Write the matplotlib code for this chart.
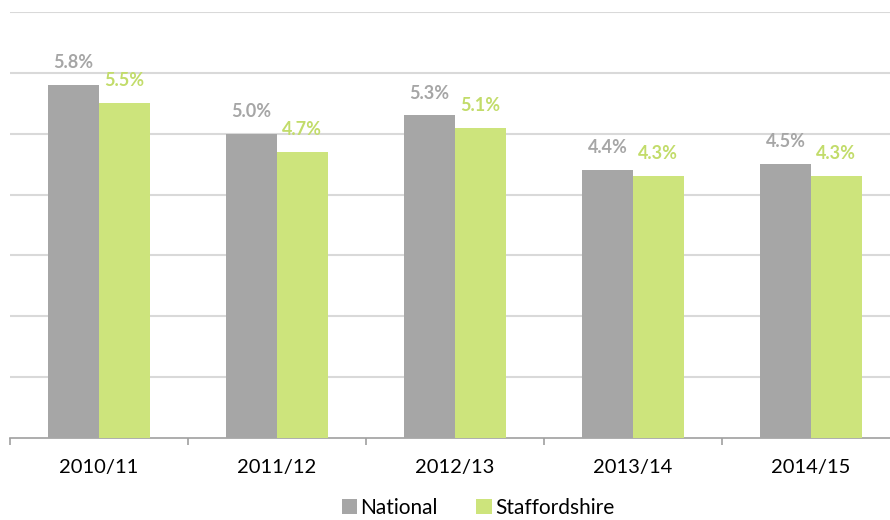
import numpy as np
from matplotlib import pyplot as plt

years = ['2010/11', '2011/12', '2012/13', '2013/14', '2014/15']
national = [5.8, 5.0, 5.3, 4.4, 4.5]
staffordshire = [5.5, 4.7, 5.1, 4.3, 4.3]

grey = '#a6a6a6'
green = '#cde47c'
green_text = '#c2dc6a'

plt.rcParams['font.family'] = ['Lato', 'DejaVu Sans']

fig = plt.figure(figsize=(8.9, 5.2), dpi=100)
ax = fig.add_axes([10 / 890, 82 / 520, 1 - 10 / 890, 426 / 520])

x = np.arange(len(years))
w = 0.285
b1 = ax.bar(x - w / 2, national, w, color=grey, label='National', zorder=3)
b2 = ax.bar(x + w / 2, staffordshire, w, color=green, label='Staffordshire', zorder=3)

for rect, v in zip(b1, national):
    ax.annotate(f'{v:.1f}%', xy=(rect.get_x() + rect.get_width() / 2, v),
                xytext=(0, 10), textcoords='offset points', ha='center', va='bottom',
                color=grey, fontsize=13, fontweight='bold')
for rect, v in zip(b2, staffordshire):
    ax.annotate(f'{v:.1f}%', xy=(rect.get_x() + rect.get_width() / 2, v),
                xytext=(0, 10), textcoords='offset points', ha='center', va='bottom',
                color=green_text, fontsize=13, fontweight='bold')

ax.set_yticks(np.arange(1, 8))
ax.yaxis.grid(True, color='#d9d9d9', linewidth=1.5, zorder=0)
ax.tick_params(axis='y', left=False, labelleft=False)

ax.set_xticks(x)
ax.set_xticklabels(years, fontsize=14.5)
ax.set_xticks(np.arange(-0.5, 5, 1), minor=True)
ax.tick_params(axis='x', which='major', length=0, pad=15)
ax.tick_params(axis='x', which='minor', length=5, color='#a0a0a0', width=1.2)

ax.set_ylim(0, 7)
ax.set_xlim(-0.5, 4.5 - 10 / 178)

for s in ['top', 'right', 'left']:
    ax.spines[s].set_visible(False)
ax.spines['bottom'].set_color('#a0a0a0')
ax.spines['bottom'].set_linewidth(1.2)

fig.legend(handles=[b1, b2], loc='center', bbox_to_anchor=(478 / 890, 12 / 520), ncol=2,
           frameon=False, fontsize=15, handlelength=0.75, handleheight=0.75,
           handletextpad=0.15, columnspacing=1.85)

fig.savefig('out.png', dpi=100)
